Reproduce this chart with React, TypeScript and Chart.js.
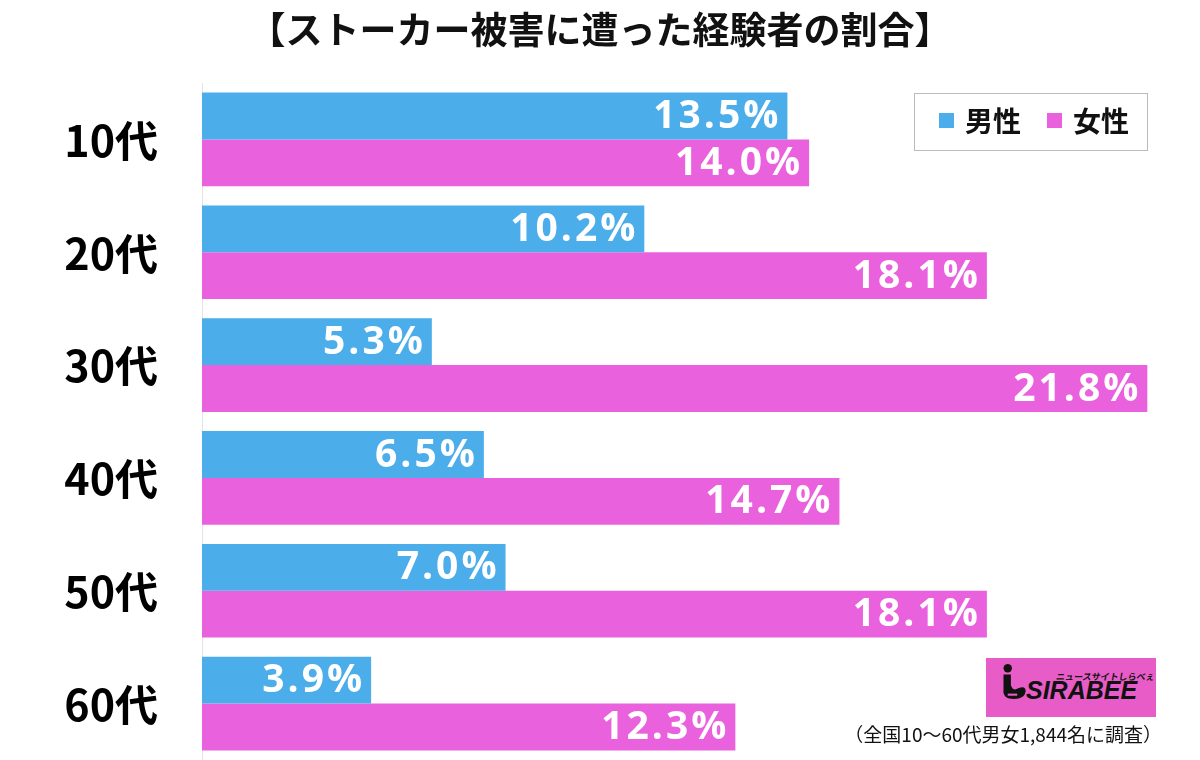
import React, { useEffect, useRef } from "react";
import { Chart, registerables } from "chart.js";

Chart.register(...registerables);

const TITLE = "【ストーカー被害に遭った経験者の割合】";
const categories = ["10代", "20代", "30代", "40代", "50代", "60代"];
const maleValues = [13.5, 10.2, 5.3, 6.5, 7.0, 3.9];
const femaleValues = [14.0, 18.1, 21.8, 14.7, 18.1, 12.3];
const seriesNames = ["男性", "女性"];
const NOTE = "（全国10〜60代男女1,844名に調査）";

const BLUE = "#4BADE9";
const PINK = "#EA61DE";
const CJK = '"Noto Sans CJK JP", "Noto Sans", sans-serif';

const overlayPlugin = {
  id: "overlay",
  afterDatasetsDraw(chart: any) {
    const ctx = chart.ctx;
    ctx.save();
    chart.data.datasets.forEach((ds: any, di: number) => {
      const meta = chart.getDatasetMeta(di);
      meta.data.forEach((el: any, i: number) => {
        const v = ds.data[i];
        ctx.font = 'bold 39px "Open Sans", sans-serif';
        (ctx as any).letterSpacing = "3px";
        ctx.fillStyle = "#ffffff";
        ctx.textAlign = "right";
        ctx.textBaseline = "middle";
        ctx.fillText(v.toFixed(1) + "%", el.x - 6, el.y + 1);
      });
    });
    (ctx as any).letterSpacing = "0px";
    ctx.restore();
  },
  afterDraw(chart: any) {
    const ctx = chart.ctx;
    ctx.save();
    // category labels
    const ys = chart.scales.y;
    ctx.font = `bold 43px ${CJK}`;
    ctx.fillStyle = "#000";
    ctx.textAlign = "right";
    ctx.textBaseline = "middle";
    categories.forEach((c, i) => {
      ctx.fillText(c, 158, ys.getPixelForValue(i) + 1);
    });
    // title
    ctx.font = `bold 37px ${CJK}`;
    ctx.fillStyle = "#111";
    ctx.textAlign = "center";
    ctx.textBaseline = "middle";
    ctx.fillText(TITLE, 600, 30);
    // legend box
    ctx.strokeStyle = "#777";
    ctx.lineWidth = 1;
    ctx.setLineDash([1, 1]);
    ctx.strokeRect(914.5, 93.5, 233, 57);
    ctx.setLineDash([]);
    const colors = [BLUE, PINK];
    const xs = [939, 1047];
    seriesNames.forEach((n, i) => {
      ctx.fillStyle = colors[i];
      ctx.fillRect(xs[i], 113, 15, 15);
      ctx.fillStyle = "#111";
      ctx.font = `bold 28px ${CJK}`;
      ctx.textAlign = "left";
      ctx.textBaseline = "middle";
      ctx.fillText(n, xs[i] + 26, 121);
    });
    // note
    ctx.font = `19px ${CJK}`;
    ctx.fillStyle = "#111";
    ctx.textAlign = "right";
    ctx.textBaseline = "middle";
    ctx.fillText(NOTE, 1162, 735);
    ctx.restore();
  },
};

export default function App() {
  const ref = useRef<HTMLCanvasElement>(null);
  useEffect(() => {
    document.body.style.margin = "0";
    const chart = new Chart(ref.current!, {
      type: "bar",
      data: {
        labels: categories,
        datasets: [
          { label: seriesNames[0], data: maleValues, backgroundColor: BLUE, borderWidth: 0 },
          { label: seriesNames[1], data: femaleValues, backgroundColor: PINK, borderWidth: 0 },
        ],
      },
      options: {
        indexAxis: "y",
        animation: false,
        responsive: false,
        maintainAspectRatio: false,
        layout: { padding: { top: 83, bottom: 0, left: 0, right: 44 } },
        datasets: { bar: { categoryPercentage: 0.83, barPercentage: 1 } },
        plugins: { legend: { display: false }, tooltip: { enabled: false }, title: { display: false } },
        scales: {
          x: { display: false, min: 0, max: 22 },
          y: {
            afterFit: (s: any) => {
              s.width = 202;
              s.paddingTop = 0;
              s.paddingBottom = 0;
            },
            grid: { display: false, drawTicks: false },
            border: { display: true, color: "#e4e4e4", width: 1 },
            ticks: { display: false },
          },
        },
      },
      plugins: [overlayPlugin],
    });
    return () => chart.destroy();
  }, []);

  return (
    <div style={{ position: "fixed", left: 0, top: 0, width: 1200, height: 760, background: "#fff" }}>
      <canvas ref={ref} width={1200} height={760} style={{ display: "block" }} />
      <div
        style={{
          position: "absolute",
          left: 986,
          top: 658,
          width: 170,
          height: 59,
          background: "#E85CC8",
          overflow: "hidden",
        }}
      >
        <svg width="30" height="38" style={{ position: "absolute", left: 12, top: 5 }} viewBox="0 0 28 36">
          <circle cx="9" cy="5" r="4" fill="#111" />
          <path d="M5 11 L12 11 L12 21 Q14 27 19 24 Q26 21 26 27 Q25 34 15 34 Q4 34 5 25 Z" fill="#111" />
          <rect x="9" y="29" width="9" height="2" fill="#E85CC8" />
        </svg>
        <div
          style={{
            position: "absolute",
            left: 70,
            top: 12,
            fontFamily: CJK,
            fontSize: 9,
            fontWeight: "bold",
            color: "#111",
            whiteSpace: "nowrap",
            transform: "skewX(-10deg)",
          }}
        >
          ニュースサイトしらべぇ
        </div>
        <div
          style={{
            position: "absolute",
            left: 40,
            top: 18,
            fontFamily: '"Liberation Sans", Arial, sans-serif',
            fontSize: 25,
            fontWeight: 900,
            fontStyle: "italic",
            color: "#111",
            lineHeight: "28px",
            whiteSpace: "nowrap",
          }}
        >
          SIRABEE
        </div>
      </div>
    </div>
  );
}
